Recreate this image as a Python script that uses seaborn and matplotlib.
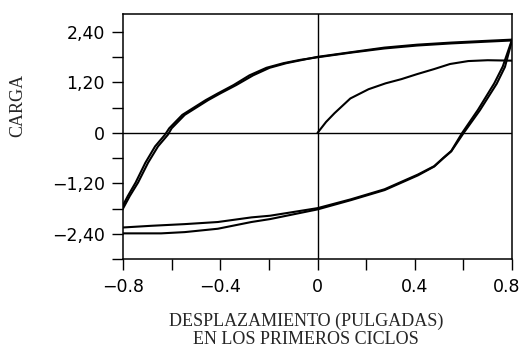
import matplotlib
matplotlib.use("Agg")
import matplotlib.pyplot as plt
import matplotlib.transforms as mtransforms
import seaborn as sns
import numpy as np
from matplotlib.ticker import FixedLocator

# ---- data ----
virgin_x = [0, 0.035, 0.07, 0.135, 0.21, 0.28, 0.345, 0.41, 0.48, 0.545, 0.62, 0.70, 0.8]
virgin_y = [0, 0.26, 0.47, 0.82, 1.04, 1.18, 1.28, 1.40, 1.52, 1.64, 1.71, 1.73, 1.72]

upper1_x = [0.8, 0.69, 0.55, 0.41, 0.275, 0.137, 0.0, -0.06, -0.128, -0.197, -0.265, -0.334,
            -0.40, -0.45, -0.546, -0.60, -0.615, -0.656, -0.697, -0.738, -0.772, -0.8]
upper1_y = [2.22, 2.19, 2.15, 2.10, 2.03, 1.92, 1.81, 1.74, 1.66, 1.55, 1.37, 1.14,
            0.94, 0.78, 0.43, 0.11, -0.04, -0.32, -0.71, -1.18, -1.50, -1.80]

upper2_x = [0.8, 0.69, 0.55, 0.41, 0.275, 0.137, 0.0, -0.07, -0.14, -0.21, -0.28, -0.345,
            -0.41, -0.46, -0.556, -0.61, -0.627, -0.668, -0.708, -0.748, -0.78, -0.8]
upper2_y = [2.20, 2.17, 2.13, 2.08, 2.01, 1.91, 1.80, 1.74, 1.66, 1.55, 1.37, 1.14,
            0.94, 0.78, 0.43, 0.11, -0.04, -0.32, -0.71, -1.18, -1.50, -1.72]

lower1_x = [-0.8, -0.643, -0.546, -0.41, -0.272, -0.195, 0.0, 0.137, 0.276, 0.413, 0.48,
            0.518, 0.55, 0.60, 0.668, 0.737, 0.771, 0.8]
lower1_y = [-2.39, -2.39, -2.36, -2.28, -2.12, -2.05, -1.82, -1.60, -1.36, -1.01, -0.80,
            -0.60, -0.44, -0.01, 0.54, 1.17, 1.57, 2.20]

lower2_x = [-0.8, -0.684, -0.546, -0.41, -0.272, -0.195, 0.0, 0.137, 0.276, 0.413, 0.48,
            0.518, 0.55, 0.595, 0.66, 0.727, 0.762, 0.8]
lower2_y = [-2.25, -2.21, -2.17, -2.12, -2.01, -1.97, -1.79, -1.58, -1.34, -0.99, -0.79,
            -0.59, -0.43, 0.0, 0.55, 1.18, 1.58, 2.22]

x_ticks = [-0.8, -0.4, 0, 0.4, 0.8]
x_tick_labels = ["\u22120.8", "\u22120.4", "0", "0.4", "0.8"]
x_minor = [-0.6, -0.2, 0.2, 0.6]
y_ticks = [-2.4, -1.2, 0, 1.2, 2.4]
y_tick_labels = ["\u22122,40", "\u22121,20", "0", "1,20", "2,40"]
y_minor = [-3.0, -1.8, -0.6, 0.6, 1.8]

x_label = "DESPLAZAMIENTO (PULGADAS)\nEN LOS PRIMEROS CICLOS"
y_label = "CARGA"

# ---- style ----
sns.set_theme(style="ticks")
plt.rcParams["font.family"] = ["DejaVu Sans"]

fig = plt.figure(figsize=(5.24, 3.5), dpi=100)
ax = fig.add_axes([123 / 524, 1 - 259 / 350, (512 - 123) / 524, (259 - 14) / 350])

lw = 1.5
for xs, ys in [(virgin_x, virgin_y), (upper1_x, upper1_y), (upper2_x, upper2_y),
               (lower1_x, lower1_y), (lower2_x, lower2_y)]:
    sns.lineplot(x=xs, y=ys, ax=ax, sort=False, estimator=None, color="black", linewidth=lw)

ax.axhline(0, color="black", linewidth=1.0, zorder=1)
ax.axvline(0, color="black", linewidth=1.0, zorder=1)

ax.set_xlim(-0.8, 0.8)
ax.set_ylim(-3.0, 2.83)

ax.set_xticks(x_ticks)
ax.set_xticklabels(x_tick_labels)
ax.set_yticks(y_ticks)
ax.set_yticklabels(y_tick_labels)
ax.xaxis.set_minor_locator(FixedLocator(x_minor))
ax.yaxis.set_minor_locator(FixedLocator(y_minor))

ax.tick_params(axis="both", which="both", direction="out", length=8, width=1.0,
               colors="black", labelsize=12.5, pad=5, top=False, right=False)
ax.tick_params(axis="x", which="both", pad=6)

# nudge the last x tick label so it stays inside the canvas
last = ax.get_xticklabels()[-1]
last.set_transform(last.get_transform() +
                   mtransforms.ScaledTranslation(-5 / 100, 0, fig.dpi_scale_trans))

for s in ax.spines.values():
    s.set_color("black")
    s.set_linewidth(1.1)
    s.set_visible(True)

ax.set_xlabel(x_label, fontsize=13, family=["Liberation Serif", "DejaVu Serif"],
              linespacing=1.05, va="top")
ax.xaxis.set_label_coords((306 - 123) / 389, (259 - 313) / 245)
ax.set_ylabel(y_label, fontsize=13, family=["Liberation Serif", "DejaVu Serif"])
ax.yaxis.set_label_coords((26 - 123) / 389, (259 - 105) / 245)

fig.savefig("out.png", dpi=100)
